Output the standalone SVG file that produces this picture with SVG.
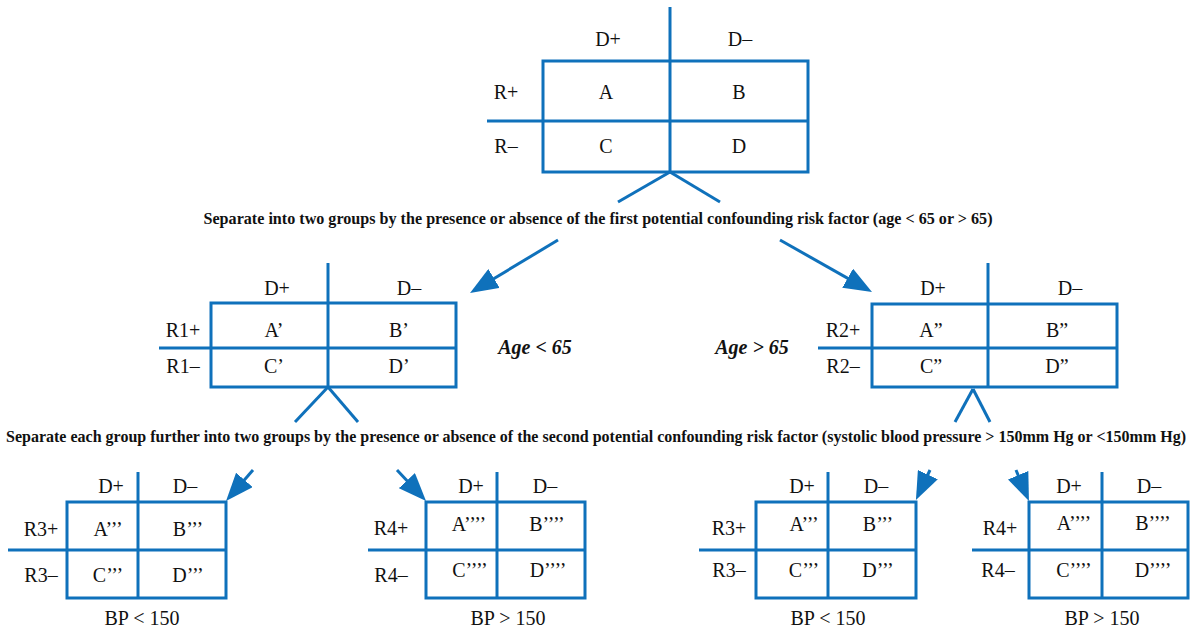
<svg xmlns="http://www.w3.org/2000/svg" width="1192" height="630" viewBox="0 0 1192 630">
<defs>
<style>
.ln{stroke:#0f71bb;stroke-width:3;fill:none;stroke-linecap:butt}
.t{font-family:"Liberation Serif","Times New Roman",serif;font-size:20px;fill:#111;text-anchor:middle}
.s{font-size:20px}
.h{font-family:"Liberation Serif","Times New Roman",serif;font-size:16px;font-weight:bold;fill:#111;text-anchor:middle}
.ag{font-family:"Liberation Serif","Times New Roman",serif;font-size:20px;font-weight:bold;font-style:italic;fill:#111;text-anchor:middle}
</style>
<marker id="ah" markerUnits="userSpaceOnUse" markerWidth="28" markerHeight="22" refX="18" refY="11" orient="auto">
<path d="M0,0 L28,11 L0,22 Z" fill="#0f71bb"/>
</marker>
</defs>
<rect width="1192" height="630" fill="#fff"/>

<g id="table-top">
<rect class="ln" x="543" y="61" width="265" height="111"/>
<line class="ln" x1="670" y1="7" x2="670" y2="172"/>
<line class="ln" x1="487" y1="121" x2="808" y2="121"/>
<text class="t" x="608" y="46">D+</text>
<text class="t" x="740" y="46">D–</text>
<text class="t" x="506" y="99">R+</text>
<text class="t" x="606" y="99">A</text>
<text class="t" x="739" y="99">B</text>
<text class="t" x="506" y="153">R–</text>
<text class="t" x="606" y="153">C</text>
<text class="t" x="739" y="153">D</text>
</g>

<g id="label-1">
<text class="h" x="598" y="224" textLength="789" lengthAdjust="spacingAndGlyphs">Separate into two groups by the presence or absence of the first potential confounding risk factor (age &lt; 65 or &gt; 65)</text>
</g>

<g id="table-age-lt65">
<rect class="ln" x="211" y="303" width="245" height="84"/>
<line class="ln" x1="328" y1="263" x2="328" y2="387"/>
<line class="ln" x1="159" y1="348" x2="456" y2="348"/>
<text class="t" x="277" y="295">D+</text>
<text class="t" x="409" y="295">D–</text>
<text class="t" x="183" y="337">R1+</text>
<text class="t" x="274" y="337">A’</text>
<text class="t" x="399" y="337">B’</text>
<text class="t" x="183" y="373">R1–</text>
<text class="t" x="274" y="373">C’</text>
<text class="t" x="399" y="373">D’</text>
<text class="ag" x="535" y="354">Age &lt; 65</text>
</g>

<g id="table-age-gt65">
<rect class="ln" x="872" y="304" width="245" height="83"/>
<line class="ln" x1="988" y1="263" x2="988" y2="387"/>
<line class="ln" x1="818" y1="348" x2="1117" y2="348"/>
<text class="t" x="933" y="295">D+</text>
<text class="t" x="1070" y="295">D–</text>
<text class="t" x="843" y="337">R2+</text>
<text class="t" x="931" y="337">A”</text>
<text class="t" x="1057" y="337">B”</text>
<text class="t" x="843" y="373">R2–</text>
<text class="t" x="931" y="373">C”</text>
<text class="t" x="1057" y="373">D”</text>
<text class="ag" x="752" y="354">Age &gt; 65</text>
</g>

<g id="label-2">
<text class="h" x="596" y="442" textLength="1180" lengthAdjust="spacingAndGlyphs">Separate each group further into two groups by the presence or absence of the second potential confounding risk factor (systolic blood pressure &gt; 150mm Hg or &lt;150mm Hg)</text>
</g>

<g id="table-1">
<rect class="ln" x="67" y="502" width="159" height="96"/>
<line class="ln" x1="138" y1="472" x2="138" y2="598"/>
<line class="ln" x1="8" y1="550" x2="226" y2="550"/>
<text class="t s" x="111" y="493">D+</text>
<text class="t s" x="185" y="493">D–</text>
<text class="t s" x="41" y="536">R3+</text>
<text class="t s" x="108" y="536">A’’’</text>
<text class="t s" x="188" y="536">B’’’</text>
<text class="t s" x="41" y="582">R3–</text>
<text class="t s" x="108" y="582">C’’’</text>
<text class="t s" x="188" y="582">D’’’</text>
<text class="t s" x="142" y="625">BP &lt; 150</text>
</g>

<g id="table-2">
<rect class="ln" x="426" y="502" width="159" height="96"/>
<line class="ln" x1="497" y1="472" x2="497" y2="598"/>
<line class="ln" x1="368" y1="550" x2="585" y2="550"/>
<text class="t s" x="471" y="493">D+</text>
<text class="t s" x="545" y="493">D–</text>
<text class="t s" x="391" y="535">R4+</text>
<text class="t s" x="469" y="531">A’’’’</text>
<text class="t s" x="547" y="531">B’’’’</text>
<text class="t s" x="391" y="582">R4–</text>
<text class="t s" x="470" y="577">C’’’’</text>
<text class="t s" x="548" y="577">D’’’’</text>
<text class="t s" x="508" y="625">BP &gt; 150</text>
</g>

<g id="table-3">
<rect class="ln" x="756" y="502" width="160" height="96"/>
<line class="ln" x1="828" y1="472" x2="828" y2="598"/>
<line class="ln" x1="699" y1="550" x2="916" y2="550"/>
<text class="t s" x="802" y="493">D+</text>
<text class="t s" x="876" y="493">D–</text>
<text class="t s" x="729" y="535">R3+</text>
<text class="t s" x="804" y="531">A’’’</text>
<text class="t s" x="878" y="531">B’’’</text>
<text class="t s" x="729" y="577">R3–</text>
<text class="t s" x="804" y="577">C’’’</text>
<text class="t s" x="878" y="577">D’’’</text>
<text class="t s" x="828" y="625">BP &lt; 150</text>
</g>

<g id="table-4">
<rect class="ln" x="1029" y="502" width="159" height="96"/>
<line class="ln" x1="1102" y1="472" x2="1102" y2="598"/>
<line class="ln" x1="972" y1="550" x2="1188" y2="550"/>
<text class="t s" x="1069" y="493">D+</text>
<text class="t s" x="1149" y="493">D–</text>
<text class="t s" x="1000" y="535">R4+</text>
<text class="t s" x="1074" y="530">A’’’’</text>
<text class="t s" x="1153" y="530">B’’’’</text>
<text class="t s" x="998" y="577">R4–</text>
<text class="t s" x="1074" y="577">C’’’’</text>
<text class="t s" x="1153" y="577">D’’’’</text>
<text class="t s" x="1102" y="625">BP &gt; 150</text>
</g>

<g id="connectors">
<line class="ln" x1="670" y1="172" x2="618" y2="202"/>
<line class="ln" x1="670" y1="172" x2="720" y2="202"/>
<line class="ln" x1="558" y1="240" x2="478.6" y2="287.8" marker-end="url(#ah)"/>
<line class="ln" x1="780" y1="240" x2="863.3" y2="287.1" marker-end="url(#ah)"/>
<line class="ln" x1="328" y1="387" x2="295" y2="422"/>
<line class="ln" x1="328" y1="387" x2="358" y2="422"/>
<line class="ln" x1="973" y1="389" x2="955" y2="422"/>
<line class="ln" x1="973" y1="389" x2="990" y2="422"/>
<line class="ln" x1="253" y1="470" x2="232.6" y2="493.5" marker-end="url(#ah)"/>
<line class="ln" x1="397" y1="470" x2="419.2" y2="493.7" marker-end="url(#ah)"/>
<line class="ln" x1="930" y1="470" x2="920.2" y2="490.9" marker-end="url(#ah)"/>
<line class="ln" x1="1016" y1="470" x2="1025.1" y2="491.8" marker-end="url(#ah)"/>
</g>
</svg>
